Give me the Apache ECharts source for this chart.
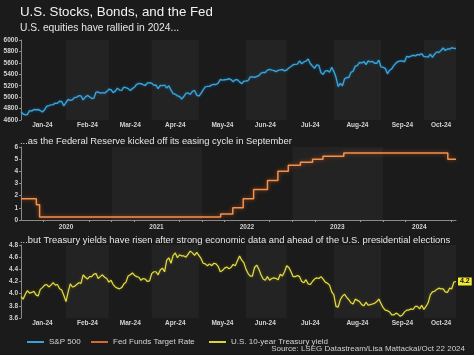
<!DOCTYPE html>
<html><head><meta charset="utf-8">
<script src="https://cdn.jsdelivr.net/npm/echarts@6/dist/echarts.min.js"></script>
<style>html,body{margin:0;padding:0;background:#1b1b1b;}#c{width:474px;height:355px;}</style>
</head><body><div id="c"></div>
<script>
// ---------- data ----------
const monthLabels = ['Jan-24','Feb-24','Mar-24','Apr-24','May-24','Jun-24','Jul-24','Aug-24','Sep-24','Oct-24'];
const monthNums = ['01','02','03','04','05','06','07','08','09','10'];
const tradingDays = [
  [2,3,4,5,8,9,10,11,12,16,17,18,19,22,23,24,25,26,29,30,31],
  [1,2,5,6,7,8,9,12,13,14,15,16,20,21,22,23,26,27,28,29],
  [1,4,5,6,7,8,11,12,13,14,15,18,19,20,21,22,25,26,27,28],
  [1,2,3,4,5,8,9,10,11,12,15,16,17,18,19,22,23,24,25,26,29,30],
  [1,2,3,6,7,8,9,10,13,14,15,16,17,20,21,22,23,24,28,29,30,31],
  [3,4,5,6,7,10,11,12,13,14,17,18,20,21,24,25,26,27,28],
  [1,2,3,5,8,9,10,11,12,15,16,17,18,19,22,23,24,25,26,29,30,31],
  [1,2,5,6,7,8,9,12,13,14,15,16,19,20,21,22,23,26,27,28,29,30],
  [3,4,5,6,9,10,11,12,13,16,17,18,19,20,23,24,25,26,27,30],
  [1,2,3,4,7,8,9,10,11,14,15,16,17,18,21,22]
];
const spx = [
  [4742.83,4704.81,4688.68,4697.24,4763.54,4756.50,4783.45,4780.24,4783.83,4765.98,4739.21,4780.94,4839.81,4850.43,4864.60,4868.55,4894.16,4890.97,4927.93,4924.97,4845.65],
  [4906.19,4958.61,4942.81,4954.23,4995.06,4997.91,5026.61,5021.84,4953.17,5000.62,5029.73,5005.57,4975.51,4981.80,5087.03,5088.80,5069.53,5078.18,5069.76,5096.27],
  [5137.08,5130.95,5078.65,5104.76,5157.36,5123.69,5117.94,5175.27,5165.31,5150.48,5117.09,5149.42,5178.51,5224.62,5241.53,5234.18,5218.19,5203.58,5248.49,5254.35],
  [5243.77,5205.81,5211.49,5147.21,5204.34,5202.39,5209.91,5160.64,5199.06,5123.41,5061.82,5051.41,5022.21,5011.12,4967.23,5010.60,5070.55,5071.63,5048.42,5099.96,5116.17,5035.69],
  [5018.39,5064.20,5127.79,5180.74,5187.70,5187.67,5214.08,5222.68,5221.42,5246.68,5308.15,5297.10,5303.27,5308.13,5321.41,5307.01,5267.84,5304.72,5306.04,5266.95,5235.48,5277.51],
  [5283.40,5291.34,5354.03,5352.96,5346.99,5360.79,5375.32,5421.03,5433.74,5431.60,5473.23,5487.03,5473.17,5464.62,5447.87,5469.30,5477.90,5482.87,5460.48],
  [5475.09,5509.01,5537.02,5567.19,5572.85,5576.98,5633.91,5584.54,5615.35,5631.22,5667.20,5588.27,5544.59,5505.00,5564.41,5555.74,5427.13,5399.22,5459.10,5463.54,5436.44,5522.30],
  [5446.68,5346.56,5186.33,5240.03,5199.50,5319.31,5344.16,5344.39,5434.43,5455.21,5543.22,5554.25,5608.25,5597.12,5620.85,5570.64,5634.61,5616.84,5625.80,5592.18,5591.96,5648.40],
  [5528.93,5520.07,5503.41,5408.42,5471.05,5495.52,5554.13,5595.76,5626.02,5633.09,5634.58,5618.26,5713.64,5702.55,5718.57,5732.93,5722.26,5745.37,5738.17,5762.48],
  [5708.75,5709.54,5699.94,5751.07,5695.94,5751.13,5792.04,5780.05,5815.03,5859.85,5815.26,5842.47,5841.47,5864.67,5853.98,5851.20]
];
const ust10 = [
  [3.95,3.91,3.99,4.05,4.01,4.02,4.04,3.98,3.96,4.07,4.10,4.14,4.15,4.11,4.14,4.18,4.14,4.15,4.08,4.06,3.97],
  [3.87,4.03,4.16,4.11,4.12,4.15,4.18,4.17,4.31,4.27,4.24,4.28,4.28,4.32,4.33,4.25,4.28,4.31,4.27,4.25],
  [4.19,4.22,4.15,4.11,4.09,4.08,4.10,4.16,4.19,4.29,4.31,4.34,4.30,4.28,4.27,4.22,4.25,4.24,4.20,4.21],
  [4.33,4.36,4.36,4.31,4.39,4.42,4.36,4.55,4.59,4.50,4.63,4.67,4.59,4.64,4.62,4.62,4.60,4.65,4.70,4.67,4.63,4.68],
  [4.63,4.58,4.50,4.49,4.46,4.49,4.46,4.50,4.49,4.45,4.36,4.38,4.42,4.44,4.41,4.43,4.48,4.46,4.54,4.62,4.55,4.51],
  [4.40,4.33,4.29,4.29,4.43,4.47,4.40,4.31,4.24,4.22,4.28,4.22,4.25,4.26,4.25,4.23,4.32,4.29,4.36],
  [4.46,4.43,4.36,4.28,4.28,4.30,4.28,4.20,4.18,4.23,4.16,4.15,4.20,4.24,4.26,4.25,4.28,4.24,4.19,4.17,4.14,4.03],
  [3.98,3.79,3.78,3.90,3.96,3.99,3.94,3.90,3.85,3.83,3.91,3.89,3.87,3.82,3.80,3.86,3.81,3.82,3.83,3.84,3.87,3.91],
  [3.84,3.77,3.73,3.72,3.70,3.65,3.65,3.68,3.66,3.63,3.65,3.70,3.73,3.73,3.75,3.74,3.79,3.79,3.75,3.81],
  [3.74,3.79,3.85,3.98,4.03,4.04,4.07,4.09,4.08,4.08,4.03,4.02,4.09,4.08,4.19,4.20]
];
const fedDates = ['2020-01-01','2020-03-03','2020-03-16','2022-03-17','2022-05-05','2022-06-16','2022-07-28','2022-09-22','2022-11-03','2022-12-15','2023-02-02','2023-03-23','2023-05-04','2023-07-27','2024-09-19','2024-10-22'];
const fedRates = [1.75,1.25,0.25,0.5,1.0,1.75,2.5,3.25,4.0,4.5,4.75,5.0,5.25,5.5,5.0,5.0];
const yearLabels = ['2020','2021','2022','2023','2024'];
const yearLabelDates = ['2020-07-01','2021-07-01','2022-07-01','2023-07-01','2024-05-27'];
const yearBands = [['2021-01-01','2022-01-01'],['2023-01-01','2024-01-01']];
const fedTickDates = ['2020-04-01','2020-10-01','2021-01-01','2021-04-01','2021-10-01','2022-01-01','2022-04-01','2022-10-01','2023-01-01','2023-04-01','2023-10-01','2024-01-01','2024-04-01','2024-10-01'];
const seriesNames = ['S&P 500','Fed Funds Target Rate','U.S. 10-year Treasury yield'];

// ---------- derived ----------
const ts = s => { const [y,m,d] = s.split('-').map(Number); return Date.UTC(y, m-1, d); };
const pad = n => (n < 10 ? '0' : '') + n;
const dates = [];
const midIdx = {};
const monthStart = [];
tradingDays.forEach((days, i) => {
  monthStart.push(dates.length);
  midIdx[dates.length + Math.floor(days.length / 2)] = monthLabels[i];
  days.forEach(d => dates.push('2024-' + monthNums[i] + '-' + pad(d)));
});
const spxFlat = spx.flat();
const ustFlat = ust10.flat();
const monthBands = [];
for (let i = 1; i < monthLabels.length; i += 2) {
  const a = dates[monthStart[i]];
  const b = i + 1 < monthLabels.length ? dates[monthStart[i + 1]] : dates[dates.length - 1];
  monthBands.push([{ xAxis: a }, { xAxis: b }]);
}
const fedData = fedDates.map((d, i) => [ts(d), fedRates[i]]);
const yearLabelTs = yearLabelDates.map(ts);

const bandStyle = { color: '#232323', opacity: 1 };
const lblColor = '#d2d2d2';
const FONT = 'Liberation Sans, Arial, sans-serif';
const catAxisLabel = (margin) => ({
  interval: (idx) => midIdx[idx] !== undefined,
  formatter: (v, idx) => midIdx[idx] || '',
  color: lblColor, fontSize: 6.5, fontWeight: 'bold', fontFamily: FONT, margin: margin
});
const yAx = (grid, min, max, interval, fmt) => ({
  type: 'value', gridIndex: grid, min, max, interval,
  axisLine: { show: true, lineStyle: { color: '#8a8a8a', width: 1 } },
  axisTick: { show: true, length: 2, lineStyle: { color: '#8a8a8a' } },
  splitLine: { show: false },
  axisLabel: { color: lblColor, fontSize: 6.5, fontWeight: 'bold', fontFamily: FONT, margin: 3, formatter: fmt }
});

const chart = echarts.init(document.getElementById('c'), null, { renderer: 'canvas' });
chart.setOption({
  backgroundColor: '#1b1b1b',
  animation: false,
  textStyle: { fontFamily: FONT },
  grid: [
    { left: 21, top: 40, width: 435, height: 80 },
    { left: 21, top: 147, width: 435, height: 73 },
    { left: 21, top: 245, width: 435, height: 73 }
  ],
  xAxis: [
    { type: 'category', gridIndex: 0, data: dates, boundaryGap: false,
      axisLine: { show: false }, axisTick: { show: false }, axisLabel: catAxisLabel(2) },
    { type: 'value', gridIndex: 1, min: ts('2020-01-01'), max: ts('2024-10-22'),
      axisLine: { show: true, lineStyle: { color: '#8a8a8a' } },
      axisTick: { show: true, length: 2, customValues: fedTickDates.map(ts), lineStyle: { color: '#9a9a9a' } },
      splitLine: { show: false },
      axisLabel: { customValues: yearLabelTs,
        formatter: (v) => { let best = 0; yearLabelTs.forEach((t, i) => { if (Math.abs(t - v) < Math.abs(yearLabelTs[best] - v)) best = i; }); return yearLabels[best]; },
        color: lblColor, fontSize: 6.5, fontWeight: 'bold', fontFamily: FONT, margin: 4 } },
    { type: 'category', gridIndex: 2, data: dates, boundaryGap: false,
      axisLine: { show: false }, axisTick: { show: false }, axisLabel: catAxisLabel(2) }
  ],
  yAxis: [
    yAx(0, 4600, 6000, 200, v => String(v)),
    yAx(1, 0, 6, 1, v => String(v)),
    yAx(2, 3.6, 4.8, 0.2, v => v.toFixed(1))
  ],
  legend: [
    { data: [seriesNames[0]], left: 22, top: 333, icon: 'rect', itemWidth: 17, itemHeight: 2,
      textStyle: { color: '#d5d5d5', fontSize: 8, fontFamily: FONT } },
    { data: [seriesNames[1]], left: 86, top: 333, icon: 'rect', itemWidth: 17, itemHeight: 2,
      textStyle: { color: '#d5d5d5', fontSize: 8, fontFamily: FONT } },
    { data: [seriesNames[2]], left: 204, top: 333, icon: 'rect', itemWidth: 17, itemHeight: 2,
      textStyle: { color: '#d5d5d5', fontSize: 8, fontFamily: FONT } }
  ],
  series: [
    { name: seriesNames[0], type: 'line', xAxisIndex: 0, yAxisIndex: 0, data: spxFlat,
      showSymbol: false, color: '#3aa2d4',
      lineStyle: { color: '#3aa2d4', width: 1.4, shadowColor: 'rgba(20,90,140,0.9)', shadowBlur: 3 },
      markArea: { silent: true, itemStyle: bandStyle, data: monthBands } },
    { name: seriesNames[1], type: 'line', xAxisIndex: 1, yAxisIndex: 1, data: fedData, step: 'end',
      showSymbol: false, color: '#d8692c',
      lineStyle: { color: '#ee9452', width: 1.5, shadowColor: 'rgba(170,70,20,1)', shadowBlur: 4 },
      markArea: { silent: true, itemStyle: bandStyle,
        data: yearBands.map(b => [{ xAxis: ts(b[0]) }, { xAxis: ts(b[1]) }]) } },
    { name: seriesNames[2], type: 'line', xAxisIndex: 2, yAxisIndex: 2, data: ustFlat,
      showSymbol: false, color: '#d9d43c',
      lineStyle: { color: '#e3dd45', width: 1.2, shadowColor: 'rgba(120,110,20,0.8)', shadowBlur: 3 },
      endLabel: { show: true, formatter: p => Number(p.value).toFixed(1), backgroundColor: '#f2e93a',
        color: '#111', fontSize: 7, fontWeight: 'bold', padding: [1, 2, 0, 2], distance: 2 },
      markArea: { silent: true, itemStyle: bandStyle, data: monthBands } }
  ],
  graphic: [
    { type: 'text', x: 20, y: 12, style: { text: 'U.S. Stocks, Bonds, and the Fed', fill: '#f2f2f2', font: '13.3px ' + FONT, textVerticalAlign: 'middle' } },
    { type: 'text', x: 20, y: 28, style: { text: 'U.S. equities have rallied in 2024...', fill: '#e6e6e6', font: '10.3px ' + FONT, textVerticalAlign: 'middle' } },
    { type: 'text', x: 20, y: 141, style: { text: '...as the Federal Reserve kicked off its easing cycle in September', fill: '#e6e6e6', font: '9.4px ' + FONT, textVerticalAlign: 'middle' } },
    { type: 'text', x: 20, y: 240, style: { text: '...but Treasury yields have risen after strong economic data and ahead of the U.S. presidential elections', fill: '#e6e6e6', font: '9.4px ' + FONT, textVerticalAlign: 'middle' } },
    { type: 'text', x: 465, y: 349, style: { text: 'Source: LSEG Datastream/Lisa Mattackal/Oct 22 2024', fill: '#cfcfcf', font: '8px ' + FONT, textAlign: 'right', textVerticalAlign: 'middle' } }
  ]
});
</script></body></html>
